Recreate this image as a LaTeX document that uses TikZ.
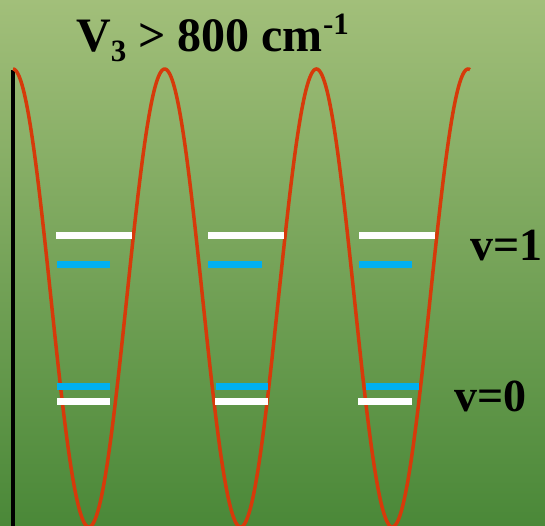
\documentclass[tikz,border=0pt]{standalone}
\usepackage{fontspec}
\setmainfont{Liberation Serif}
\definecolor{bgtop}{RGB}{162,191,122}
\definecolor{bgbot}{RGB}{74,136,56}
\definecolor{curvecol}{RGB}{214,58,10}
\definecolor{bluelev}{RGB}{0,176,240}
\tikzset{
  whitelev/.style={draw=white, line width=7pt},
  bluelevel/.style={draw=bluelev, line width=7pt},
  potcurve/.style={draw=curvecol, line width=3.5pt},
  axisline/.style={draw=black, line width=3.4pt},
  bigtxt/.style={inner sep=0pt, font=\fontsize{48}{56}\selectfont\bfseries},
  labtxt/.style={inner sep=0pt, font=\fontsize{46}{54}\selectfont\bfseries}
}
\begin{document}
\begin{tikzpicture}[x=1pt,y=1pt]
\useasboundingbox (0,0) rectangle (545,526);
\shade[top color=bgtop, bottom color=bgbot] (0,0) rectangle (545,526);
\begin{scope}
\clip (0,0) rectangle (545,526);
% axis
\coordinate (axtop) at (13,456);
\coordinate (axbot) at (13,-2);
\draw[axisline] (axtop) -- (axbot);
% potential curve
\draw[potcurve] plot[domain=13:470, samples=400, smooth] (\x, {228+229*cos(2.37311*(\x-13))});
\end{scope}
% levels, well 1
\coordinate (w1a) at (56,290); \coordinate (w1b) at (132,290);
\draw[whitelev] (w1a) -- (w1b);
\coordinate (b1a) at (57,261); \coordinate (b1b) at (110,261);
\draw[bluelevel] (b1a) -- (b1b);
\coordinate (b0a) at (57,139); \coordinate (b0b) at (110,139);
\draw[bluelevel] (b0a) -- (b0b);
\coordinate (w0a) at (57,124); \coordinate (w0b) at (110,124);
\draw[whitelev] (w0a) -- (w0b);
% well 2
\coordinate (w1c) at (208,290); \coordinate (w1d) at (284,290);
\draw[whitelev] (w1c) -- (w1d);
\coordinate (b1c) at (208,261); \coordinate (b1d) at (262,261);
\draw[bluelevel] (b1c) -- (b1d);
\coordinate (b0c) at (216,139); \coordinate (b0d) at (268,139);
\draw[bluelevel] (b0c) -- (b0d);
\coordinate (w0c) at (215,124); \coordinate (w0d) at (268,124);
\draw[whitelev] (w0c) -- (w0d);
% well 3
\coordinate (w1e) at (359,290); \coordinate (w1f) at (435,290);
\draw[whitelev] (w1e) -- (w1f);
\coordinate (b1e) at (359,261); \coordinate (b1f) at (412,261);
\draw[bluelevel] (b1e) -- (b1f);
\coordinate (b0e) at (366,139); \coordinate (b0f) at (419,139);
\draw[bluelevel] (b0e) -- (b0f);
\coordinate (w0e) at (358,124); \coordinate (w0f) at (412,124);
\draw[whitelev] (w0e) -- (w0f);
% texts
\node[bigtxt, anchor=base west] (title) at (76,474)
  {V\raisebox{-10pt}{\fontsize{31}{31}\selectfont 3} \textgreater{} 800 cm\raisebox{17pt}{\fontsize{31}{31}\selectfont -1}};
\node[labtxt, anchor=base west] (v1) at (470,265) {v=1};
\node[labtxt, anchor=base west] (v0) at (454,114) {v=0};
\end{tikzpicture}
\end{document}
